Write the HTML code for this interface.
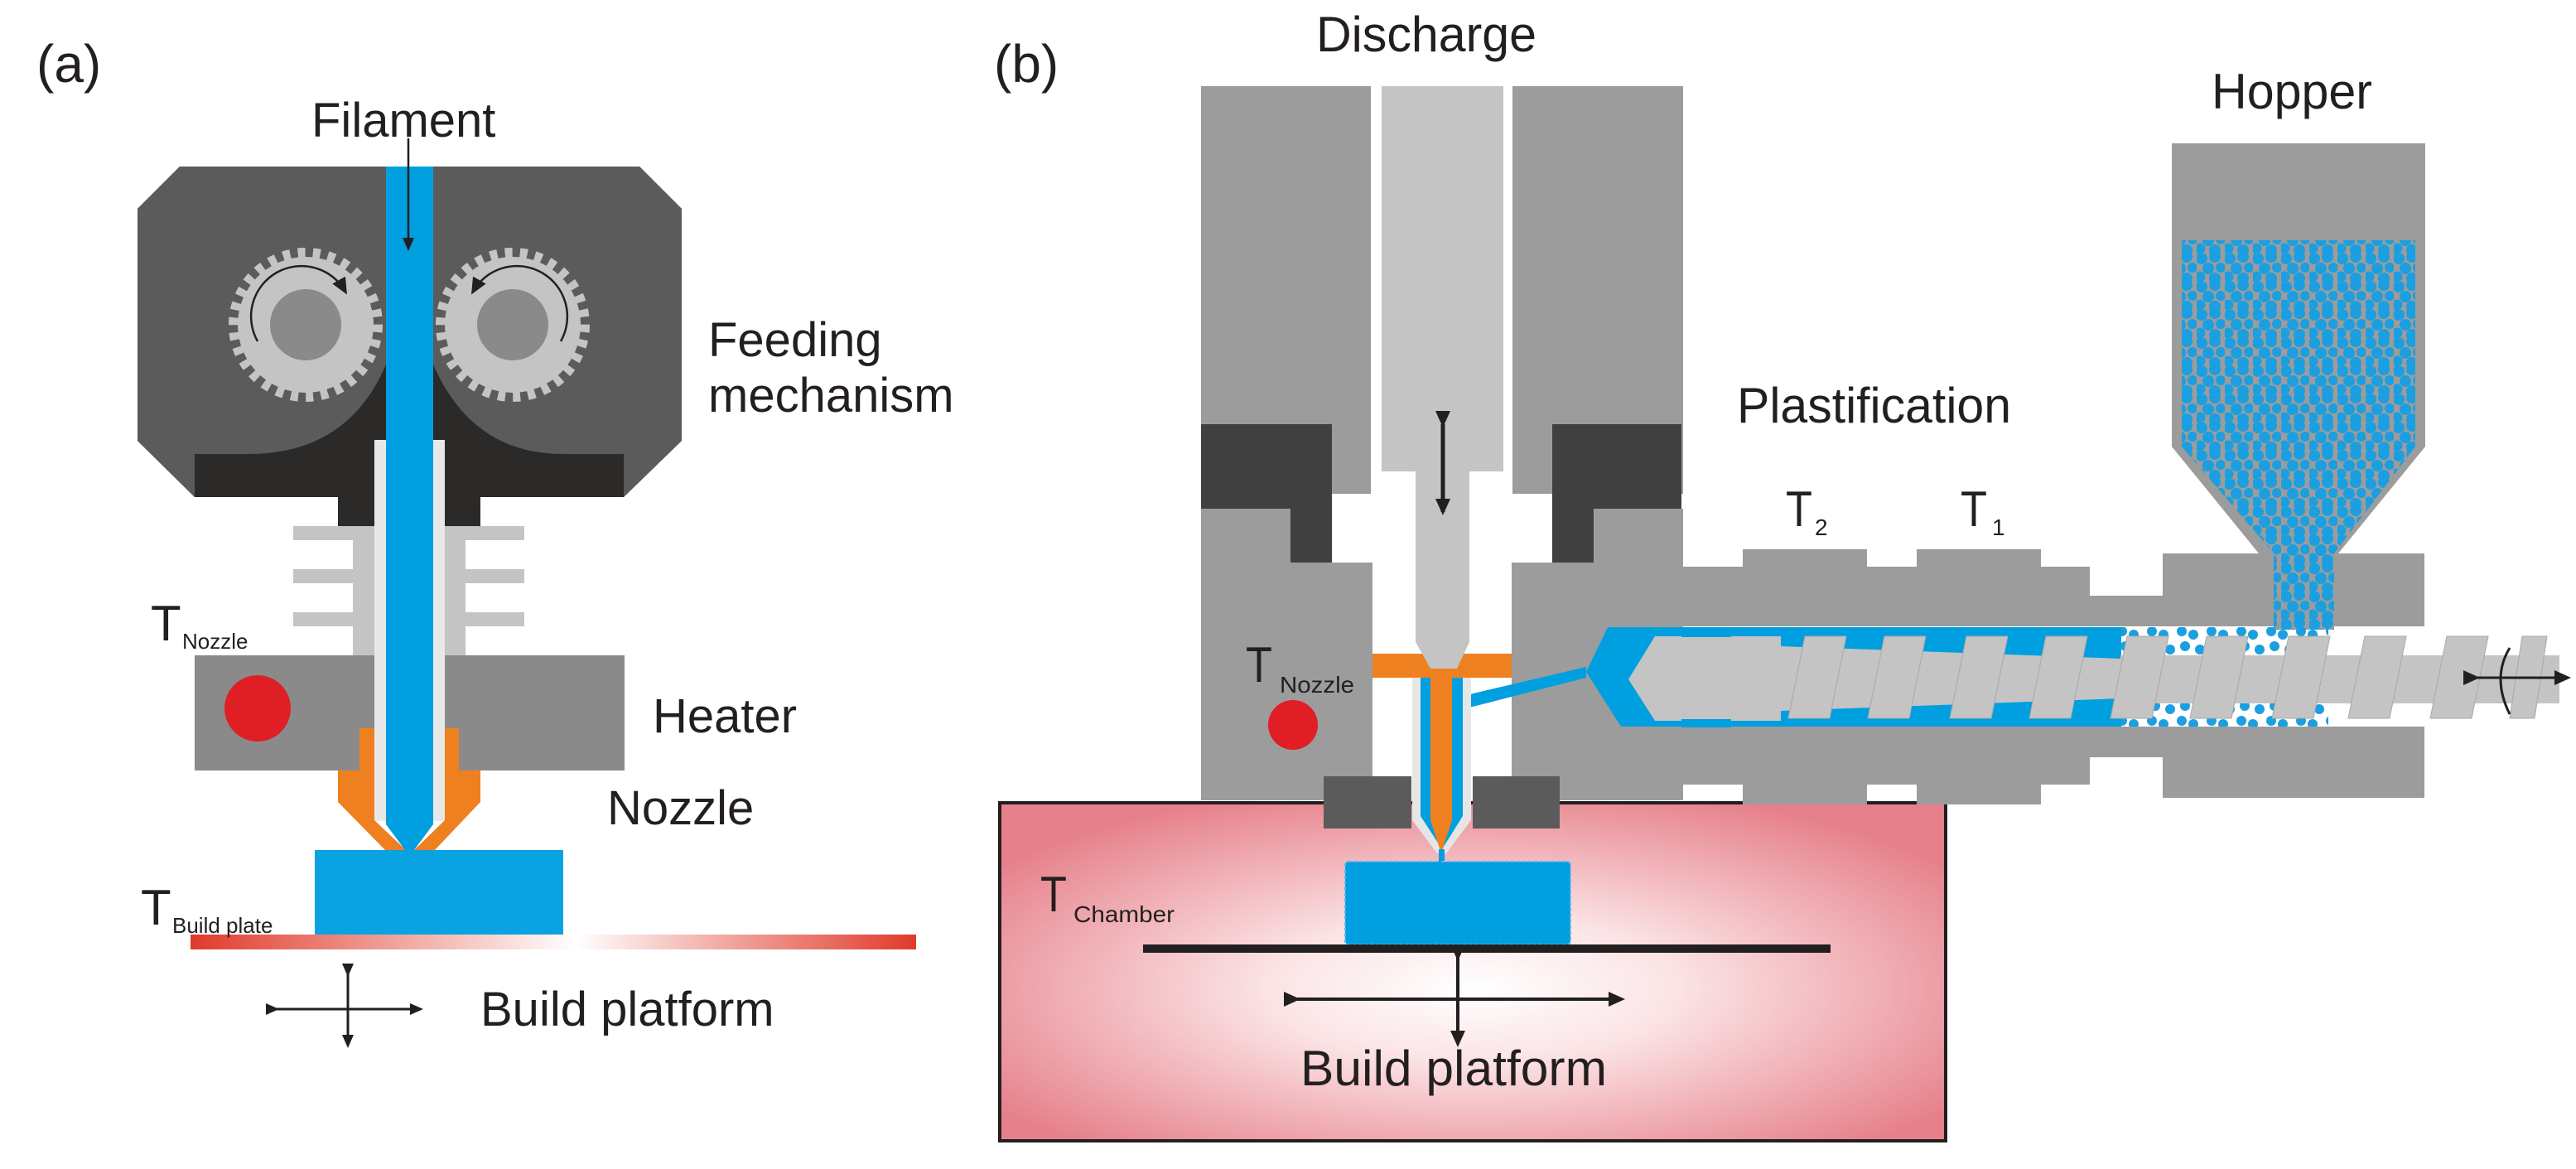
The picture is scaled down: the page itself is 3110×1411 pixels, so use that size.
<!DOCTYPE html>
<html><head><meta charset="utf-8"><style>
html,body{margin:0;padding:0;background:#fff}
svg{display:block}
text{font-family:"Liberation Sans",sans-serif;fill:#231f20}
</style></head><body>
<svg width="3110" height="1411" viewBox="0 0 3110 1411" xmlns="http://www.w3.org/2000/svg">
<defs>
<linearGradient id="rb" x1="0" x2="1" y1="0" y2="0">
<stop offset="0" stop-color="#e03a2a"/><stop offset="0.53" stop-color="#ffffff"/><stop offset="1" stop-color="#e03a2a"/>
</linearGradient>
<radialGradient id="ch" cx="0.5" cy="0.55" r="0.62">
<stop offset="0" stop-color="#ffffff"/><stop offset="0.35" stop-color="#fbe3e5"/><stop offset="1" stop-color="#e6808a"/>
</radialGradient>
<pattern id="pel" width="34" height="34" patternUnits="userSpaceOnUse">
<rect width="34" height="34" fill="#9c9c9c"/>
<g fill="#1b9fe0">
<circle cx="6" cy="6" r="7"/><circle cx="22" cy="4" r="7"/><circle cx="14" cy="18" r="7"/><circle cx="29" cy="17" r="6"/><circle cx="4" cy="28" r="6.5"/><circle cx="22" cy="30" r="7"/>
</g>
</pattern>
<pattern id="pel2" width="36" height="36" patternUnits="userSpaceOnUse">
<g fill="#1b9fe0"><circle cx="6" cy="6" r="6"/><circle cx="20" cy="10" r="6"/><circle cx="10" cy="24" r="6"/><circle cx="28" cy="28" r="6"/></g>
</pattern>
<marker id="ah" markerWidth="16" markerHeight="14" refX="13" refY="7" orient="auto" markerUnits="userSpaceOnUse">
<path d="M0,0 L16,7 L0,14 z" fill="#231f20"/>
</marker>
<marker id="ahb" markerWidth="20" markerHeight="18" refX="16" refY="9" orient="auto" markerUnits="userSpaceOnUse">
<path d="M0,0 L20,9 L0,18 z" fill="#231f20"/>
</marker>
</defs>

<!-- ========== (a) ========== -->
<text x="44" y="99" font-size="64">(a)</text>
<polygon points="217,201 772,201 823,252 823,532 753,600 235,600 166,532 166,252" fill="#2b2a29"/>
<path d="M217,201 L466,201 L466,440 Q420,548 300,548 L235,548 L235,600 L166,532 L166,252 Z" fill="#5b5b5b"/>
<path d="M523,201 L772,201 L823,252 L823,532 L753,600 L753,548 L680,548 Q570,548 523,440 Z" fill="#5b5b5b"/>
<rect x="408" y="598" width="172" height="40" fill="#2b2a29"/>
<g>
<circle cx="369" cy="392" r="82" fill="#c4c4c4"/>
<circle cx="369" cy="392" r="87" fill="none" stroke="#c4c4c4" stroke-width="12" stroke-dasharray="9 9.2"/>
<circle cx="369" cy="392" r="43" fill="#8a8a8a"/>
<path d="M311,412 A60,60 0 0 1 417,352" fill="none" stroke="#231f20" stroke-width="2.5" marker-end="url(#ahb)"/>
<circle cx="619" cy="392" r="82" fill="#c4c4c4"/>
<circle cx="619" cy="392" r="87" fill="none" stroke="#c4c4c4" stroke-width="12" stroke-dasharray="9 9.2"/>
<circle cx="619" cy="392" r="43" fill="#8a8a8a"/>
<path d="M677,412 A60,60 0 0 0 571,352" fill="none" stroke="#231f20" stroke-width="2.5" marker-end="url(#ahb)"/>
</g>
<rect x="426" y="635" width="136" height="160" fill="#c4c4c4"/>
<rect x="354" y="635" width="279" height="17" fill="#c4c4c4"/>
<rect x="354" y="687" width="279" height="17" fill="#c4c4c4"/>
<rect x="354" y="739" width="279" height="17" fill="#c4c4c4"/>
<rect x="235" y="791" width="519" height="139" fill="#8a8a8a"/>
<circle cx="311" cy="855" r="40" fill="#e01e25"/>
<rect x="452" y="531" width="85" height="460" fill="#e8e8e8"/>
<polygon points="434,879 452,879 452,990 490,1026 465,1026 408,968 408,930 434,930" fill="#ee8020"/>
<polygon points="554,879 537,879 537,990 500,1026 525,1026 580,968 580,930 554,930" fill="#ee8020"/>
<polygon points="466,201 523,201 523,995 497,1030 492,1030 466,995" fill="#009fdf"/>
<line x1="493" y1="167" x2="493" y2="300" stroke="#231f20" stroke-width="2.5" marker-end="url(#ah)"/>
<rect x="380" y="1026" width="300" height="102" fill="#0ba2e2"/>
<rect x="230" y="1128" width="876" height="18" fill="url(#rb)"/>
<line x1="420" y1="1176" x2="420" y2="1262" stroke="#231f20" stroke-width="3" marker-start="url(#ah)" marker-end="url(#ah)"/>
<line x1="334" y1="1218" x2="508" y2="1218" stroke="#231f20" stroke-width="3" marker-start="url(#ah)" marker-end="url(#ah)"/>
<text x="376" y="165" font-size="58">Filament</text>
<text x="855" y="430" font-size="58">Feeding</text>
<text x="855" y="497" font-size="58">mechanism</text>
<text x="788" y="884" font-size="58">Heater</text>
<text x="733" y="995" font-size="58">Nozzle</text>
<text x="182" y="773" font-size="60">T</text><text x="220" y="783" font-size="26">Nozzle</text>
<text x="170" y="1116" font-size="60">T</text><text x="208" y="1126" font-size="26">Build plate</text>
<text x="580" y="1238" font-size="58">Build platform</text>

<!-- ========== (b) ========== -->
<text x="1200" y="99" font-size="64">(b)</text>
<rect x="1207" y="969" width="1142" height="408" fill="url(#ch)" stroke="#231f20" stroke-width="4"/>
<rect x="1450" y="104" width="205" height="492" fill="#9c9c9c"/>
<rect x="1826" y="104" width="206" height="492" fill="#9c9c9c"/>
<rect x="1668" y="104" width="147" height="465" fill="#c4c4c4"/>
<polygon points="1450,512 1608,512 1608,679 1558,679 1558,614 1450,614" fill="#404040"/>
<polygon points="2030,512 1874,512 1874,679 1924,679 1924,614 2030,614" fill="#404040"/>
<polygon points="1450,614 1558,614 1558,679 1657,679 1657,966 1450,966" fill="#9c9c9c"/>
<polygon points="2032,614 1924,614 1924,679 1825,679 1825,966 2032,966" fill="#9c9c9c"/>
<rect x="2031" y="684" width="492" height="72" fill="#9c9c9c"/>
<rect x="2104" y="663" width="150" height="25" fill="#9c9c9c"/>
<rect x="2314" y="663" width="150" height="25" fill="#9c9c9c"/>
<rect x="2523" y="719" width="88" height="37" fill="#9c9c9c"/>
<rect x="2611" y="668" width="316" height="88" fill="#9c9c9c"/>
<rect x="2031" y="877" width="492" height="70" fill="#9c9c9c"/>
<rect x="2104" y="940" width="150" height="31" fill="#9c9c9c"/>
<rect x="2314" y="940" width="150" height="31" fill="#9c9c9c"/>
<rect x="2523" y="877" width="88" height="37" fill="#9c9c9c"/>
<rect x="2611" y="877" width="316" height="86" fill="#9c9c9c"/>
<rect x="1826" y="756" width="206" height="121" fill="#9c9c9c"/>
<polygon points="2622,173 2928,173 2928,539 2823,668 2727,668 2622,539" fill="#9c9c9c"/>
<polygon points="2634,290 2916,290 2916,539 2818,668 2818,760 2745,760 2745,668 2634,539" fill="url(#pel)"/>
<polygon points="1915,811 1941,757 2561,757 2561,877 1957,877" fill="#009fdf"/>
<polygon points="1766,840 1915,805 1915,818 1766,856" fill="#009fdf"/>
<rect x="2561" y="757" width="250" height="120" fill="url(#pel2)"/>
<polygon points="1966,820 1998,768 2150,768 2150,870 1998,870" fill="#c4c4c4"/>
<rect x="2030" y="757" width="60" height="12" fill="#009fdf"/>
<rect x="2030" y="868" width="60" height="10" fill="#009fdf"/>
<polygon points="2150,780 2560,795 2560,843 2150,858" fill="#c4c4c4"/>
<rect x="2560" y="791" width="530" height="58" fill="#c4c4c4"/>
<g fill="#c4c4c4" stroke="#a8a8a8" stroke-width="1">
<polygon points="2159,867 2209,867 2229,768 2179,768"/>
<polygon points="2255,867 2305,867 2325,768 2275,768"/>
<polygon points="2354,867 2404,867 2424,768 2374,768"/>
<polygon points="2450,867 2500,867 2520,768 2470,768"/>
<polygon points="2548,867 2598,867 2618,768 2568,768"/>
<polygon points="2644,867 2694,867 2714,768 2664,768"/>
<polygon points="2743,867 2793,867 2813,768 2763,768"/>
<polygon points="2835,867 2885,867 2905,768 2855,768"/>
<polygon points="2934,867 2984,867 3004,768 2954,768"/>
<polygon points="3030,867 3060,867 3075,768 3045,768"/>
</g>
<line x1="2990" y1="818" x2="3100" y2="818" stroke="#231f20" stroke-width="3" marker-start="url(#ahb)" marker-end="url(#ahb)"/>
<path d="M3030,782 Q3008,818 3030,862" fill="none" stroke="#231f20" stroke-width="3"/>
<rect x="1657" y="789" width="168" height="29" fill="#ee8020"/>
<polygon points="1709,569 1774,569 1774,775 1759,807 1727,807 1709,775" fill="#c4c4c4"/>
<polygon points="1705,818 1776,818 1776,990 1746,1030 1735,1030 1705,990" fill="#e6e6e6"/>
<polygon points="1715,818 1766,818 1766,985 1741,1025 1715,985" fill="#009fdf"/>
<polygon points="1727,818 1753,818 1753,990 1740,1030 1727,990" fill="#ee8020"/>
<rect x="1737" y="1025" width="7" height="18" fill="#009fdf"/>
<rect x="1598" y="937" width="106" height="63" fill="#5b5b5b"/>
<rect x="1778" y="937" width="105" height="63" fill="#5b5b5b"/>
<circle cx="1561" cy="875" r="30" fill="#e01e25"/>
<rect x="1624" y="1040" width="272" height="100" rx="4" fill="#009fdf" stroke="#5ab8ea" stroke-width="2" stroke-dasharray="4 3"/>
<rect x="1380" y="1140" width="830" height="10" fill="#231f20"/>
<line x1="1566" y1="1206" x2="1958" y2="1206" stroke="#231f20" stroke-width="4" marker-start="url(#ahb)" marker-end="url(#ahb)"/>
<line x1="1760" y1="1156" x2="1760" y2="1260" stroke="#231f20" stroke-width="4" marker-start="url(#ahb)" marker-end="url(#ahb)"/>
<line x1="1742" y1="512" x2="1742" y2="618" stroke="#231f20" stroke-width="5" marker-start="url(#ahb)" marker-end="url(#ahb)"/>
<text x="1589" y="62" font-size="60" textLength="266" lengthAdjust="spacingAndGlyphs">Discharge</text>
<text x="2670" y="131" font-size="60" textLength="194" lengthAdjust="spacingAndGlyphs">Hopper</text>
<text x="2097" y="510" font-size="60" textLength="331" lengthAdjust="spacingAndGlyphs">Plastification</text>
<text x="2156" y="635" font-size="60" textLength="32" lengthAdjust="spacingAndGlyphs">T</text><text x="2191" y="646" font-size="28">2</text>
<text x="2367" y="635" font-size="60" textLength="32" lengthAdjust="spacingAndGlyphs">T</text><text x="2405" y="646" font-size="28">1</text>
<text x="1504" y="823" font-size="60" textLength="32" lengthAdjust="spacingAndGlyphs">T</text><text x="1545" y="836" font-size="28" textLength="90" lengthAdjust="spacingAndGlyphs">Nozzle</text>
<text x="1256" y="1100" font-size="60" textLength="32" lengthAdjust="spacingAndGlyphs">T</text><text x="1296" y="1113" font-size="28" textLength="122" lengthAdjust="spacingAndGlyphs">Chamber</text>
<text x="1570" y="1310" font-size="60" textLength="370" lengthAdjust="spacingAndGlyphs">Build platform</text>
</svg>
</body></html>
